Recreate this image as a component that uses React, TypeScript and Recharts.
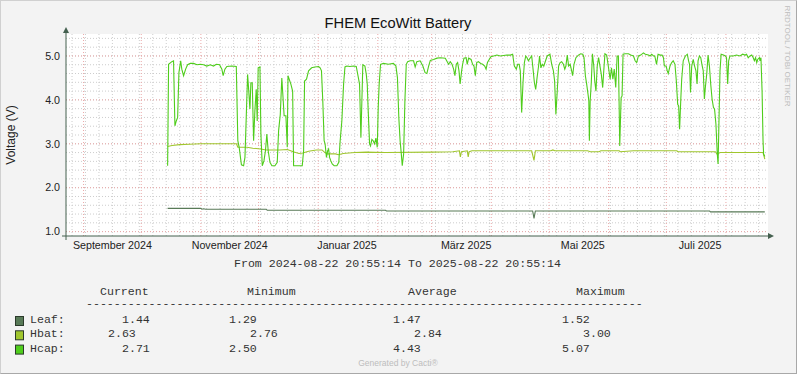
import React from "react";
import { LineChart, Line, XAxis, YAxis, CartesianGrid } from "recharts";

const RANGE_START = "2024-08-22T20:55:14";
const RANGE_END = "2025-08-22T20:55:14";

const xLabelTimes = ["2024-09-16T00", "2024-11-16T00", "2025-01-16T00", "2025-03-18T22", "2025-05-18T14", "2025-07-18T14"];
const xLabelTexts = ["September 2024", "November 2024", "Januar 2025", "März 2025", "Mai 2025", "Juli 2025"];
const yTicks = [1, 2, 3, 4, 5];

const seriesNames = ["Leaf", "Hbat", "Hcap"];
const seriesColors = ["#587a57", "#a0c62e", "#4fcd1c"];
const statCurrent = ["1.44", "2.63", "2.71"];
const statMinimum = ["1.29", "2.76", "2.50"];
const statAverage = ["1.47", "2.84", "4.43"];
const statMaximum = ["1.52", "3.00", "5.07"];

const leafSeries: [string, number][] = [
  ["2024-10-14T17", 1.53], ["2024-11-01T00", 1.53], ["2024-11-01T12", 1.51], ["2024-11-02T12", 1.52],
  ["2024-11-03T12", 1.51], ["2024-12-05T00", 1.51], ["2024-12-05T12", 1.485], ["2025-02-05T00", 1.485],
  ["2025-02-05T12", 1.47], ["2025-04-22T12", 1.47], ["2025-04-23T05", 1.3], ["2025-04-23T22", 1.47],
  ["2025-07-23T12", 1.47], ["2025-07-24T00", 1.45], ["2025-08-21T05", 1.45],
];

const hbatSeries: [string, number][] = [
  ["2024-10-14T17", 2.94], ["2024-10-17T00", 2.96], ["2024-10-21T00", 2.98], ["2024-10-26T00", 2.99],
  ["2024-11-01T00", 3.0], ["2024-11-19T12", 3.0], ["2024-11-20T05", 2.92], ["2024-11-25T00", 2.92],
  ["2024-11-28T00", 2.9], ["2024-12-02T00", 2.88], ["2024-12-05T00", 2.86], ["2024-12-12T00", 2.86],
  ["2024-12-16T00", 2.87], ["2024-12-19T00", 2.82], ["2024-12-22T00", 2.78], ["2024-12-24T00", 2.79],
  ["2024-12-27T00", 2.83], ["2024-12-31T00", 2.86], ["2025-01-03T00", 2.86], ["2025-01-04T12", 2.8],
  ["2025-01-06T00", 2.77], ["2025-01-10T00", 2.77], ["2025-01-11T12", 2.75], ["2025-01-14T00", 2.78],
  ["2025-01-20T00", 2.8], ["2025-01-26T00", 2.81], ["2025-02-05T00", 2.8], ["2025-03-01T00", 2.81],
  ["2025-03-12T00", 2.82], ["2025-03-15T10", 2.84], ["2025-03-15T22", 2.7], ["2025-03-16T12", 2.82],
  ["2025-03-19T12", 2.84], ["2025-03-20T00", 2.7], ["2025-03-20T12", 2.82], ["2025-03-22T00", 2.84],
  ["2025-04-22T00", 2.84], ["2025-04-23T05", 2.62], ["2025-04-23T22", 2.84], ["2025-05-02T00", 2.84],
  ["2025-05-03T00", 2.86], ["2025-05-04T00", 2.84], ["2025-05-21T00", 2.84], ["2025-05-22T12", 2.82],
  ["2025-05-27T00", 2.82], ["2025-05-28T00", 2.84], ["2025-06-06T12", 2.84], ["2025-06-07T00", 2.82],
  ["2025-06-14T00", 2.84], ["2025-07-06T12", 2.84], ["2025-07-07T00", 2.82], ["2025-07-26T12", 2.82],
  ["2025-07-27T12", 2.76], ["2025-07-28T00", 2.78], ["2025-07-29T00", 2.8], ["2025-08-20T07", 2.8],
  ["2025-08-21T05", 2.65],
];

const hcapSeries: [string, number][] = [
  ["2024-10-14T17", 2.5], ["2024-10-15T05", 4.81], ["2024-10-16T22", 4.87], ["2024-10-17T19", 4.89],
  ["2024-10-18T12", 3.41], ["2024-10-19T05", 3.52], ["2024-10-19T22", 3.6], ["2024-10-20T14", 4.62],
  ["2024-10-21T12", 4.89], ["2024-10-22T02", 4.7], ["2024-10-23T00", 4.55], ["2024-10-24T02", 4.7],
  ["2024-10-25T02", 4.8], ["2024-10-26T12", 4.83], ["2024-10-28T05", 4.83], ["2024-10-30T00", 4.8],
  ["2024-10-31T17", 4.81], ["2024-11-02T10", 4.8], ["2024-11-04T02", 4.77], ["2024-11-05T22", 4.8],
  ["2024-11-07T14", 4.77], ["2024-11-09T00", 4.81], ["2024-11-10T17", 4.8], ["2024-11-11T22", 4.7],
  ["2024-11-12T14", 4.55], ["2024-11-13T12", 4.7], ["2024-11-14T12", 4.76], ["2024-11-17T02", 4.77],
  ["2024-11-19T10", 4.76], ["2024-11-20T05", 3.07], ["2024-11-20T22", 2.92], ["2024-11-21T14", 2.69],
  ["2024-11-22T02", 2.52], ["2024-11-23T05", 2.5], ["2024-11-23T22", 2.69], ["2024-11-24T14", 3.6],
  ["2024-11-25T07", 4.58], ["2024-11-26T00", 4.13], ["2024-11-26T12", 3.79], ["2024-11-27T00", 4.39],
  ["2024-11-27T17", 4.39], ["2024-11-28T10", 3.07], ["2024-11-29T02", 3.75], ["2024-11-29T19", 4.24],
  ["2024-11-30T07", 3.52], ["2024-11-30T19", 4.73], ["2024-12-01T17", 4.75], ["2024-12-02T05", 3.22],
  ["2024-12-02T22", 2.5], ["2024-12-03T19", 2.61], ["2024-12-04T14", 2.84], ["2024-12-05T07", 3.22],
  ["2024-12-06T00", 2.84], ["2024-12-06T22", 2.58], ["2024-12-07T22", 2.5], ["2024-12-09T12", 2.5],
  ["2024-12-10T17", 2.58], ["2024-12-11T10", 3.3], ["2024-12-12T07", 3.67], ["2024-12-13T02", 4.5],
  ["2024-12-14T07", 3.64], ["2024-12-15T05", 3.64], ["2024-12-15T22", 2.92], ["2024-12-16T07", 4.55],
  ["2024-12-17T19", 4.36], ["2024-12-18T17", 4.2], ["2024-12-19T05", 2.5], ["2024-12-21T02", 2.5],
  ["2024-12-23T17", 2.5], ["2024-12-24T10", 2.84], ["2024-12-24T22", 4.43], ["2024-12-25T22", 4.47],
  ["2024-12-27T00", 4.66], ["2024-12-28T14", 4.73], ["2024-12-30T07", 4.75], ["2025-01-01T05", 4.76],
  ["2025-01-02T00", 4.73], ["2025-01-02T17", 4.66], ["2025-01-03T10", 3.94], ["2025-01-04T02", 3.07],
  ["2025-01-04T14", 3.0], ["2025-01-05T07", 2.69], ["2025-01-05T22", 2.84], ["2025-01-06T10", 2.88],
  ["2025-01-06T22", 2.69], ["2025-01-07T14", 2.61], ["2025-01-08T07", 2.54], ["2025-01-09T07", 2.5],
  ["2025-01-10T17", 2.5], ["2025-01-11T17", 2.58], ["2025-01-12T10", 3.07], ["2025-01-13T07", 3.52],
  ["2025-01-14T05", 4.36], ["2025-01-14T22", 4.75], ["2025-01-15T22", 4.77], ["2025-01-17T10", 4.76],
  ["2025-01-19T10", 4.77], ["2025-01-20T19", 4.76], ["2025-01-22T12", 4.36], ["2025-01-23T05", 3.14],
  ["2025-01-23T17", 3.98], ["2025-01-24T05", 4.8], ["2025-01-25T07", 4.77], ["2025-01-26T00", 4.58],
  ["2025-01-26T12", 4.36], ["2025-01-27T00", 3.75], ["2025-01-27T17", 3.0], ["2025-01-28T05", 2.95],
  ["2025-01-28T22", 3.1], ["2025-01-29T14", 3.07], ["2025-01-30T07", 3.0], ["2025-01-31T00", 3.13],
  ["2025-01-31T17", 2.92], ["2025-02-01T05", 3.83], ["2025-02-01T17", 4.36], ["2025-02-02T10", 4.81],
  ["2025-02-03T22", 4.83], ["2025-02-06T12", 4.81], ["2025-02-09T02", 4.83], ["2025-02-10T10", 4.77],
  ["2025-02-11T05", 4.5], ["2025-02-11T22", 3.6], ["2025-02-12T14", 3.07], ["2025-02-13T05", 2.77],
  ["2025-02-13T17", 2.5], ["2025-02-14T10", 2.77], ["2025-02-15T02", 3.98], ["2025-02-15T19", 4.81],
  ["2025-02-16T12", 4.87], ["2025-02-17T19", 4.89], ["2025-02-19T14", 4.89], ["2025-02-20T10", 4.75],
  ["2025-02-21T07", 4.87], ["2025-02-23T00", 4.89], ["2025-02-24T10", 4.77], ["2025-02-25T14", 4.62],
  ["2025-02-26T12", 4.6], ["2025-02-27T10", 4.77], ["2025-02-28T07", 4.9], ["2025-03-02T00", 4.92],
  ["2025-03-03T19", 4.95], ["2025-03-05T12", 4.96], ["2025-03-08T02", 4.95], ["2025-03-09T19", 4.81],
  ["2025-03-10T17", 4.87], ["2025-03-11T14", 4.81], ["2025-03-12T10", 4.7], ["2025-03-13T02", 4.55],
  ["2025-03-13T19", 4.81], ["2025-03-14T12", 4.85], ["2025-03-15T05", 4.66], ["2025-03-15T19", 4.36],
  ["2025-03-16T14", 4.66], ["2025-03-17T02", 4.81], ["2025-03-17T19", 4.95], ["2025-03-18T22", 4.96],
  ["2025-03-19T12", 4.81], ["2025-03-20T05", 4.95], ["2025-03-21T12", 4.92], ["2025-03-22T07", 4.81],
  ["2025-03-23T00", 4.77], ["2025-03-23T17", 4.55], ["2025-03-24T10", 4.85], ["2025-03-25T07", 4.87],
  ["2025-03-26T12", 4.83], ["2025-03-27T12", 4.81], ["2025-03-28T14", 4.77], ["2025-03-29T07", 4.7],
  ["2025-03-30T00", 4.85], ["2025-03-31T19", 4.98], ["2025-04-02T05", 5.0], ["2025-04-03T22", 5.02],
  ["2025-04-05T17", 5.0], ["2025-04-07T10", 5.01], ["2025-04-09T02", 5.02], ["2025-04-10T22", 5.02],
  ["2025-04-12T02", 5.04], ["2025-04-13T00", 4.77], ["2025-04-14T00", 4.7], ["2025-04-14T17", 4.81],
  ["2025-04-15T12", 4.81], ["2025-04-16T02", 4.66], ["2025-04-16T19", 3.71], ["2025-04-17T12", 4.4],
  ["2025-04-18T05", 4.85], ["2025-04-18T22", 5.0], ["2025-04-19T14", 4.96], ["2025-04-20T07", 4.89],
  ["2025-04-21T07", 4.96], ["2025-04-22T00", 5.0], ["2025-04-22T17", 4.7], ["2025-04-23T10", 4.39],
  ["2025-04-24T02", 4.24], ["2025-04-24T19", 4.5], ["2025-04-25T14", 4.77], ["2025-04-26T02", 5.0],
  ["2025-04-26T19", 4.73], ["2025-04-27T12", 4.81], ["2025-04-28T07", 4.77], ["2025-04-29T05", 4.89],
  ["2025-04-30T02", 5.0], ["2025-05-01T12", 5.04], ["2025-05-02T10", 4.81], ["2025-05-03T07", 4.66],
  ["2025-05-03T22", 4.43], ["2025-05-04T14", 3.67], ["2025-05-05T07", 4.2], ["2025-05-06T00", 4.77],
  ["2025-05-06T19", 4.85], ["2025-05-07T14", 4.87], ["2025-05-08T12", 4.81], ["2025-05-09T05", 4.7],
  ["2025-05-09T19", 4.77], ["2025-05-10T12", 5.02], ["2025-05-11T05", 4.77], ["2025-05-12T00", 4.81],
  ["2025-05-12T19", 4.66], ["2025-05-13T07", 4.55], ["2025-05-14T00", 4.81], ["2025-05-15T00", 4.96],
  ["2025-05-16T07", 5.02], ["2025-05-17T12", 5.05], ["2025-05-18T14", 5.04], ["2025-05-19T05", 4.96],
  ["2025-05-19T22", 4.55], ["2025-05-20T14", 4.36], ["2025-05-21T07", 4.13], ["2025-05-21T17", 3.98],
  ["2025-05-22T00", 3.07], ["2025-05-22T10", 3.98], ["2025-05-23T00", 4.4], ["2025-05-23T14", 5.05],
  ["2025-05-24T07", 4.77], ["2025-05-24T19", 4.43], ["2025-05-25T10", 4.2], ["2025-05-26T02", 4.77],
  ["2025-05-26T19", 4.96], ["2025-05-27T12", 4.77], ["2025-05-28T05", 4.58], ["2025-05-28T22", 4.28],
  ["2025-05-29T14", 4.73], ["2025-05-30T02", 5.05], ["2025-05-31T00", 5.02], ["2025-05-31T17", 4.81],
  ["2025-06-01T19", 4.47], ["2025-06-02T12", 4.73], ["2025-06-03T05", 4.47], ["2025-06-03T22", 4.7],
  ["2025-06-04T17", 4.28], ["2025-06-05T10", 5.0], ["2025-06-06T02", 5.0], ["2025-06-06T19", 2.95],
  ["2025-06-07T12", 4.05], ["2025-06-08T00", 4.09], ["2025-06-08T12", 5.04], ["2025-06-09T14", 5.05],
  ["2025-06-11T07", 5.05], ["2025-06-12T12", 5.02], ["2025-06-13T22", 5.0], ["2025-06-14T19", 4.89],
  ["2025-06-15T14", 4.85], ["2025-06-16T12", 5.0], ["2025-06-17T17", 5.02], ["2025-06-19T02", 5.07],
  ["2025-06-20T02", 5.04], ["2025-06-21T17", 5.02], ["2025-06-22T14", 5.0], ["2025-06-23T10", 5.04],
  ["2025-06-24T07", 5.0], ["2025-06-25T00", 5.0], ["2025-06-25T22", 4.81], ["2025-06-26T17", 5.04],
  ["2025-06-27T19", 5.02], ["2025-06-28T19", 5.02], ["2025-06-29T12", 4.96], ["2025-06-30T00", 4.77],
  ["2025-06-30T22", 4.77], ["2025-07-01T12", 4.66], ["2025-07-02T00", 4.6], ["2025-07-02T22", 4.77],
  ["2025-07-03T19", 4.85], ["2025-07-04T14", 4.89], ["2025-07-05T12", 4.81], ["2025-07-06T05", 4.43],
  ["2025-07-06T22", 3.9], ["2025-07-07T10", 3.86], ["2025-07-07T22", 3.33], ["2025-07-08T12", 3.98],
  ["2025-07-09T00", 4.47], ["2025-07-09T19", 4.89], ["2025-07-10T22", 5.0], ["2025-07-11T22", 5.04],
  ["2025-07-12T14", 4.89], ["2025-07-13T02", 4.81], ["2025-07-13T14", 4.17], ["2025-07-14T05", 4.77],
  ["2025-07-15T00", 4.92], ["2025-07-15T17", 4.77], ["2025-07-16T10", 4.66], ["2025-07-17T00", 4.36],
  ["2025-07-17T12", 4.89], ["2025-07-18T05", 5.0], ["2025-07-18T22", 4.96], ["2025-07-19T12", 4.81],
  ["2025-07-20T05", 4.66], ["2025-07-20T19", 4.02], ["2025-07-21T07", 4.28], ["2025-07-22T00", 4.58],
  ["2025-07-22T17", 5.02], ["2025-07-23T10", 4.77], ["2025-07-24T02", 4.36], ["2025-07-24T19", 4.02],
  ["2025-07-25T12", 3.83], ["2025-07-26T02", 3.79], ["2025-07-26T19", 3.45], ["2025-07-27T12", 2.77],
  ["2025-07-27T22", 2.54], ["2025-07-28T10", 3.6], ["2025-07-28T22", 4.66], ["2025-07-29T12", 5.04],
  ["2025-07-30T17", 5.02], ["2025-07-31T17", 5.0], ["2025-08-01T07", 4.96], ["2025-08-01T22", 4.36],
  ["2025-08-02T10", 4.89], ["2025-08-03T02", 5.0], ["2025-08-04T19", 5.0], ["2025-08-06T12", 5.02],
  ["2025-08-08T07", 5.0], ["2025-08-09T17", 5.04], ["2025-08-10T22", 5.02], ["2025-08-11T17", 5.04],
  ["2025-08-12T14", 4.96], ["2025-08-13T12", 5.0], ["2025-08-14T10", 5.02], ["2025-08-15T05", 4.96],
  ["2025-08-15T19", 4.89], ["2025-08-16T10", 4.96], ["2025-08-17T00", 4.85], ["2025-08-17T12", 4.92],
  ["2025-08-18T10", 4.96], ["2025-08-18T17", 4.89], ["2025-08-19T05", 4.96], ["2025-08-19T19", 4.2],
  ["2025-08-20T07", 3.07], ["2025-08-20T14", 2.77], ["2025-08-21T05", 2.71],
];

function toTime(s: string): number {
  const m = s.match(/^(\d+)-(\d+)-(\d+)(?:T(\d+)(?::(\d+))?(?::(\d+))?)?$/);
  if (!m) return NaN;
  return Date.UTC(+m[1], +m[2] - 1, +m[3], m[4] ? +m[4] : 0, m[5] ? +m[5] : 0, m[6] ? +m[6] : 0);
}

const toRows = (s: [string, number][]) => s.map(([d, v]) => ({ t: toTime(d), v }));

const tStart = toTime(RANGE_START);
const tEnd = toTime(RANGE_END);
const DAY = 86400000;

// grid positions
const weekLines: number[] = [];
for (let t = toTime("2024-08-26"); t < tEnd; t += 7 * DAY) weekLines.push(t);
const monthLines: number[] = [];
for (let i = 0; i < 12; i++) monthLines.push(Date.UTC(2024, 8 + i, 1));
const minorH: number[] = [];
for (let i = 0; i <= 22; i++) minorH.push(Math.round((1 + i * 0.2) * 10) / 10);

const labelTicks = xLabelTimes.map(toTime);

const MONO = "'Liberation Mono', 'DejaVu Sans Mono', monospace";
const SANS = "'Liberation Sans', Arial, sans-serif";
const AXIS = "#44604f";

export default function App() {
  const leafRows = toRows(leafSeries);
  const hbatRows = toRows(hbatSeries);
  const hcapRows = toRows(hcapSeries);
  const rows = [leafRows, hbatRows, hcapRows];

  const legendY = [323, 337.3, 351.6];
  const valueX = [
    [122, 229, 393, 562],
    [108, 250, 414, 583],
    [122, 229, 393, 562],
  ];
  const stats = [statCurrent, statMinimum, statAverage, statMaximum];

  return (
    <div
      style={{
        position: "absolute",
        left: 0,
        top: 0,
        width: 797,
        height: 374,
        boxSizing: "border-box",
        background: "#f3f3f3",
        borderTop: "1px solid #d0d0d0",
        borderLeft: "1px solid #d0d0d0",
        borderRight: "1px solid #a8a8a8",
        borderBottom: "1px solid #a8a8a8",
        overflow: "hidden",
      }}
    >
      <div style={{ position: "absolute", left: -1, top: -1 }}>
        <LineChart width={797} height={374} margin={{ top: 34, right: 29, bottom: 108, left: 6 }}>
          <CartesianGrid
            horizontalValues={minorH}
            verticalValues={weekLines}
            stroke="#cdcdcd"
            strokeDasharray="1 2"
            fill="#ffffff"
            fillOpacity={1}
          />
          <CartesianGrid
            horizontalValues={yTicks}
            verticalValues={monthLines}
            stroke="#eaa8a8"
            strokeDasharray="1 2"
          />
          <XAxis
            type="number"
            dataKey="t"
            domain={[tStart, tEnd]}
            allowDataOverflow
            ticks={labelTicks}
            interval={0}
            tickFormatter={(v: number) => xLabelTexts[labelTicks.indexOf(v)] ?? ""}
            tickLine={false}
            tickSize={0}
            tickMargin={5}
            height={30}
            stroke={AXIS}
            tick={{ fill: "#222", fontSize: 10.7, fontFamily: SANS }}
          />
          <YAxis
            type="number"
            domain={[0.9, 5.5]}
            allowDataOverflow
            ticks={yTicks}
            interval={0}
            tickFormatter={(v: number) => v.toFixed(1)}
            tickLine={false}
            tickSize={0}
            tickMargin={6}
            width={60}
            stroke={AXIS}
            tick={{ fill: "#222", fontSize: 10.7, fontFamily: SANS }}
          />
          {rows.map((r, i) => (
            <Line
              key={seriesNames[i]}
              data={r}
              dataKey="v"
              type="linear"
              stroke={seriesColors[i]}
              strokeWidth={1.1}
              dot={false}
              activeDot={false}
              isAnimationActive={false}
            />
          ))}
        </LineChart>
      </div>
      <svg
        width={797}
        height={374}
        style={{ position: "absolute", left: -1, top: -1, pointerEvents: "none" }}
      >
        <line x1={66} y1={236} x2={66} y2={240} stroke={AXIS} />
        <line x1={62} y1={236} x2={66} y2={236} stroke={AXIS} />
        <line x1={66} y1={34} x2={66} y2={31} stroke={AXIS} />
        <polygon points="63,33 69,33 66,27" fill={AXIS} />
        <line x1={768} y1={236} x2={770} y2={236} stroke={AXIS} />
        <polygon points="768,233 768,239 774,236" fill={AXIS} />

        <text x={398} y={28} textAnchor="middle" fontFamily={SANS} fontSize={14.7} fill="#111">
          FHEM EcoWitt Battery
        </text>
        <text
          transform="translate(15,135) rotate(-90)"
          textAnchor="middle"
          fontFamily={SANS}
          fontSize={12}
          fill="#222"
        >
          Voltage (V)
        </text>
        <text
          transform="translate(785,56) rotate(90)"
          textAnchor="middle"
          fontFamily={SANS}
          fontSize={8}
          fill="#bdbdbd"
        >
          RRDTOOL / TOBI OETIKER
        </text>

        <g fontFamily={MONO} fontSize={11.6} fill="#333">
          <text x={234} y={267}>From 2024-08-22 20:55:14 To 2025-08-22 20:55:14</text>
          <text x={100} y={295}>Current</text>
          <text x={247} y={295}>Minimum</text>
          <text x={408} y={295}>Average</text>
          <text x={576} y={295}>Maximum</text>
          <text x={86} y={306.5}>{"-".repeat(80)}</text>
          {seriesNames.map((n, i) => (
            <g key={n}>
              <rect x={15.5} y={legendY[i] - 6.5} width={8} height={9} fill={seriesColors[i]} stroke="#2b3a2b" strokeWidth={1} />
              <text x={30} y={legendY[i]}>{n + ":"}</text>
              {stats.map((s, j) => (
                <text key={j} x={valueX[i][j]} y={legendY[i]}>
                  {s[i]}
                </text>
              ))}
            </g>
          ))}
        </g>
        <text x={398} y={366} textAnchor="middle" fontFamily={SANS} fontSize={8.5} fill="#bdbdbd">
          Generated by Cacti®
        </text>
      </svg>
    </div>
  );
}
